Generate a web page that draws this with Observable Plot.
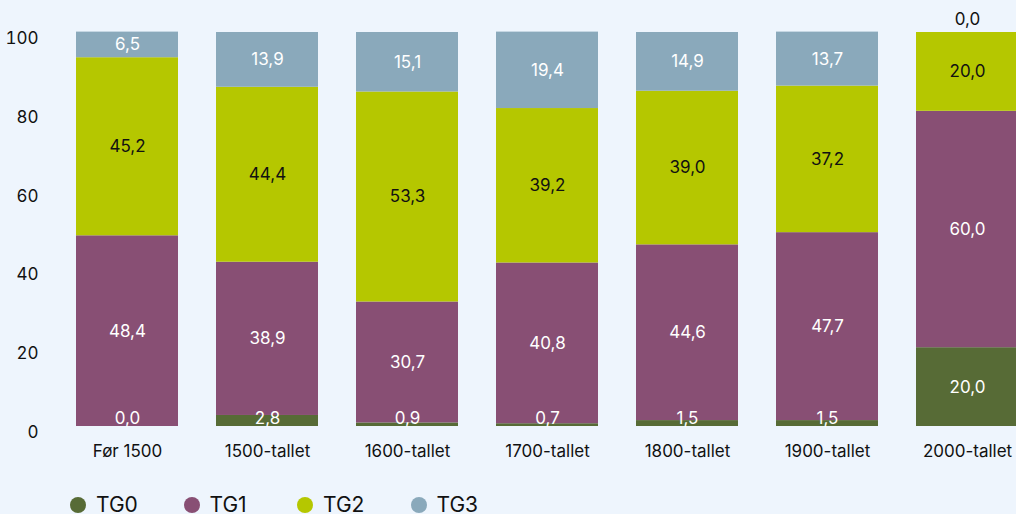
<!DOCTYPE html>
<html>
<head>
<meta charset="utf-8">
<script src="https://cdn.jsdelivr.net/npm/d3@7"></script>
<script src="https://cdn.jsdelivr.net/npm/@observablehq/plot@0.6"></script>
<style>
  html, body { margin: 0; padding: 0; background: #eef5fd; overflow: hidden; }
  body { font-family: Inter, "Noto Sans", sans-serif; }
  #legend { display: flex; padding-left: 70px; margin-top: 14px; height: 21px; align-items: center; }
  .item { display: flex; align-items: center; width: 113.5px; font-size: 21px; line-height: 21px; color: #111; }
  .dot { width: 16px; height: 16px; border-radius: 50%; margin-right: 10px; flex: none; }
</style>
</head>
<body>
<div id="chart"></div>
<div id="legend"></div>
<script>
const periods = ["Før 1500", "1500-tallet", "1600-tallet", "1700-tallet", "1800-tallet", "1900-tallet", "2000-tallet"];
const grades = ["TG0", "TG1", "TG2", "TG3"];
const gradeColors = ["#576b36", "#884f74", "#b5c700", "#8aa9bb"];
const tg0 = [0.0, 2.8, 0.9, 0.7, 1.5, 1.5, 20.0];
const tg1 = [48.4, 38.9, 30.7, 40.8, 44.6, 47.7, 60.0];
const tg2 = [45.2, 44.4, 53.3, 39.2, 39.0, 37.2, 20.0];
const tg3 = [6.5, 13.9, 15.1, 19.4, 14.9, 13.7, 0.0];
const yTicks = [0, 20, 40, 60, 80, 100];

const series = [tg0, tg1, tg2, tg3];
const fmt = v => v.toFixed(1).replace(".", ",");

const rows = [];
periods.forEach((p, i) => {
  let cum = 0;
  grades.forEach((g, j) => {
    const v = series[j][i];
    const mid = cum + v / 2;
    const top = j === grades.length - 1;
    rows.push({
      period: p, grade: g, value: v,
      labelY: (v === 0 && top) ? cum + v : Math.max(mid, 2),
      outside: v === 0 && top,
      dark: g === "TG2"
    });
    cum += v;
  });
});

const chart = Plot.plot({
  width: 1016,
  height: 480,
  marginLeft: 44,
  marginRight: -33,
  marginTop: 32,
  marginBottom: 54,
  style: { background: "#eef5fd", fontFamily: "Inter, 'Noto Sans', sans-serif", fontSize: "17px", color: "#111" },
  x: { domain: periods, paddingInner: 0.274, paddingOuter: 0.2135, label: null },
  y: { domain: [0, 100], label: null },
  color: { domain: grades, range: gradeColors },
  marks: [
    Plot.barY(rows, { x: "period", y: "value", fill: "grade" }),
    Plot.text(rows.filter(d => !d.outside && !d.dark), { x: "period", y: "labelY", text: d => fmt(d.value), fill: "white", fontSize: 17 }),
    Plot.text(rows.filter(d => !d.outside && d.dark), { x: "period", y: "labelY", text: d => fmt(d.value), fill: "#111", fontSize: 17 }),
    Plot.text(rows.filter(d => d.outside), { x: "period", y: "labelY", text: d => fmt(d.value), fill: "#111", fontSize: 17, dy: -13 }),
    Plot.axisY({ ticks: yTicks, tickSize: 0, tickPadding: 6, dy: 6, label: null }),
    Plot.axisX({ tickSize: 0, tickPadding: 18, label: null })
  ]
});
document.getElementById("chart").appendChild(chart);

const legend = document.getElementById("legend");
grades.forEach((g, i) => {
  const item = document.createElement("div");
  item.className = "item";
  const dot = document.createElement("span");
  dot.className = "dot";
  dot.style.background = gradeColors[i];
  const txt = document.createElement("span");
  txt.textContent = g;
  item.appendChild(dot);
  item.appendChild(txt);
  legend.appendChild(item);
});
</script>
</body>
</html>
